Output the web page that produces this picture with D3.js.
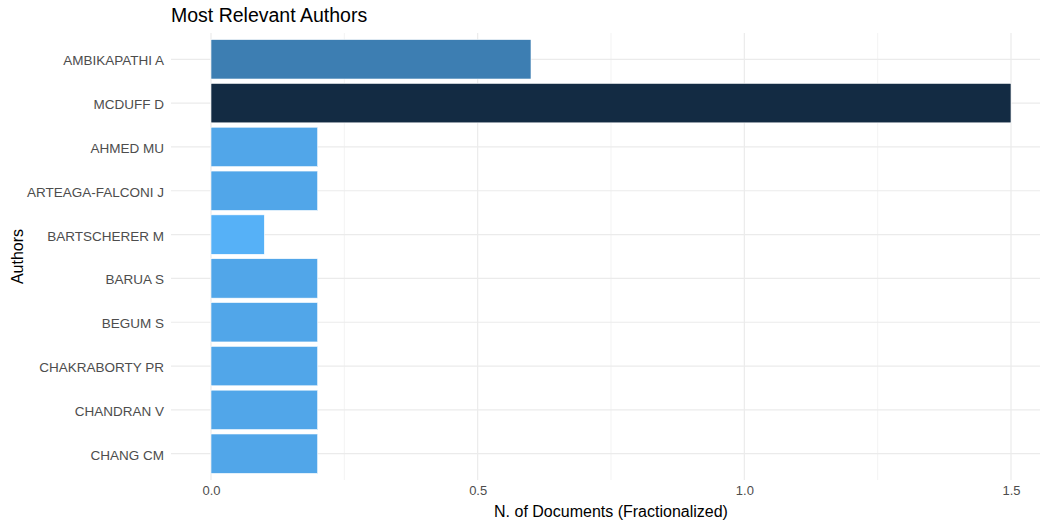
<!DOCTYPE html>
<html>
<head>
<meta charset="utf-8">
<script src="https://cdn.jsdelivr.net/npm/d3@7"></script>
<style>
  body { margin: 0; background: #fff; }
  text { font-family: "Liberation Sans", Arial, sans-serif; }
</style>
</head>
<body>
<svg id="chart" width="1040" height="522"></svg>
<script>
// data
const authors = ["AMBIKAPATHI A", "MCDUFF D", "AHMED MU", "ARTEAGA-FALCONI J", "BARTSCHERER M",
                 "BARUA S", "BEGUM S", "CHAKRABORTY PR", "CHANDRAN V", "CHANG CM"];
const docs = [0.6, 1.5, 0.2, 0.2, 0.1, 0.2, 0.2, 0.2, 0.2, 0.2];
const xTicks = [0, 0.5, 1, 1.5];
const xMinor = [0.25, 0.75, 1.25];

const svg = d3.select("#chart");
const panel = {left: 171, right: 1051, top: 33, bottom: 480};

const x = d3.scaleLinear().domain([-0.075, 1.575]).range([panel.left, panel.right]);
const y = d3.scaleBand().domain(authors).range([panel.top, panel.bottom])
    .paddingInner(0.1).paddingOuter(0.15);
const color = d3.scaleLinear().domain([d3.min(docs), d3.max(docs)])
    .range(["#56B1F7", "#132B43"]).interpolate(d3.interpolateLab);

const grid = svg.append("g");
// minor grid
grid.selectAll("line.minor").data(xMinor).enter().append("line")
    .attr("x1", d => x(d)).attr("x2", d => x(d))
    .attr("y1", panel.top).attr("y2", panel.bottom)
    .style("stroke", "#ebebeb").style("stroke-width", 0.6);
// major grid
grid.selectAll("line.major").data(xTicks).enter().append("line")
    .attr("x1", d => x(d)).attr("x2", d => x(d))
    .attr("y1", panel.top).attr("y2", panel.bottom)
    .style("stroke", "#ebebeb").style("stroke-width", 1.2);
grid.selectAll("line.hmajor").data(authors).enter().append("line")
    .attr("x1", panel.left).attr("x2", panel.right)
    .attr("y1", d => y(d) + y.bandwidth() / 2).attr("y2", d => y(d) + y.bandwidth() / 2)
    .style("stroke", "#ebebeb").style("stroke-width", 1.2);

// bars
svg.append("g").selectAll("rect")
    .data(authors.map((a, i) => ({author: a, value: docs[i]})))
    .enter().append("rect")
    .attr("x", x(0))
    .attr("y", d => y(d.author))
    .attr("width", d => x(d.value) - x(0))
    .attr("height", y.bandwidth())
    .style("fill", d => color(d.value))
    .style("stroke", "#ffffff")
    .style("stroke-width", 0.6);

// axes
const xAxis = svg.append("g")
    .attr("transform", `translate(0,${panel.bottom})`)
    .call(d3.axisBottom(x).tickValues(xTicks).tickFormat(d3.format(".1f")).tickSize(0).tickPadding(6));
xAxis.select(".domain").remove();
xAxis.selectAll("text").style("font-size", "13px").style("fill", "#4d4d4d");

const yAxis = svg.append("g")
    .attr("transform", `translate(${panel.left},0)`)
    .call(d3.axisLeft(y).tickSize(0).tickPadding(7));
yAxis.select(".domain").remove();
yAxis.selectAll("text").attr("dy", "0.45em").style("font-size", "13.5px").style("fill", "#4d4d4d");

// titles
svg.append("text").attr("x", panel.left).attr("y", 22)
    .style("font-size", "19.5px").style("fill", "#000").text("Most Relevant Authors");
svg.append("text").attr("x", (panel.left + panel.right) / 2).attr("y", 517)
    .attr("text-anchor", "middle").style("font-size", "16px").style("fill", "#000")
    .text("N. of Documents (Fractionalized)");
svg.append("text")
    .attr("transform", `translate(23,${(panel.top + panel.bottom) / 2}) rotate(-90)`)
    .attr("text-anchor", "middle").style("font-size", "16px").style("fill", "#000")
    .text("Authors");
</script>
</body>
</html>
